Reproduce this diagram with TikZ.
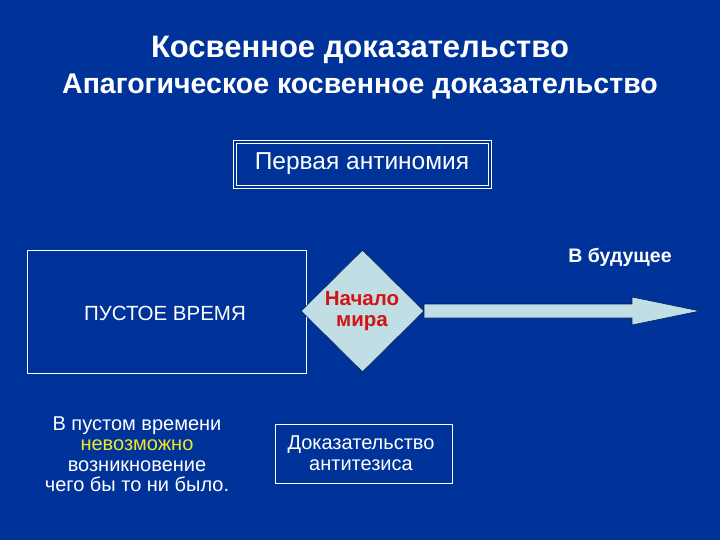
\documentclass[tikz,border=0pt]{standalone}
\usepackage{fontspec}
\setmainfont{Liberation Sans}
\usetikzlibrary{shapes.geometric}
\definecolor{bg}{RGB}{0,51,153}
\definecolor{lb}{RGB}{192,222,228}
\definecolor{rd}{RGB}{210,20,20}
\definecolor{yl}{RGB}{240,230,40}
\tikzset{txt/.style={text=white,align=center,inner sep=0pt},
 frame/.style={draw=white,line width=0.8pt}}
\begin{document}
\begin{tikzpicture}[x=1pt,y=-1pt]
\fill[bg] (0,0) rectangle (720,540);
\useasboundingbox (0,0) rectangle (720,540);
\node[txt,font=\bfseries\fontsize{31}{36}\selectfont] (t1) at (360,50) {Косвенное доказательство};
\node[txt,font=\bfseries\fontsize{28.5}{34}\selectfont] (t2) at (360,87) {Апагогическое косвенное доказательство};
\draw[white,line width=0.8pt] (233,140) rectangle (491,188);
\draw[white,line width=0.8pt] (236,143) rectangle (488,185);
\node[txt,font=\fontsize{24.5}{28}\selectfont] (pa) at (362,164) {Первая антиномия};
\node[frame,minimum width=279pt,minimum height=123pt,inner sep=0pt] (box) at (166.5,311.5) {};
\node[txt,font=\fontsize{20.5}{24}\selectfont] (pv) at (165,313) {ПУСТОЕ ВРЕМЯ};
\draw[fill=lb,draw=bg!60!black,line width=0.6pt] (424,304) -- (632,304) -- (632,297) -- (700,311) -- (632,325) -- (632,318) -- (424,318) -- cycle;
\node[diamond,fill=lb,draw=bg!60!black,line width=0.6pt,minimum width=123pt,minimum height=122pt,inner sep=0pt,aspect=1] (d) at (362.5,311) {};
\node[txt,text=rd,font=\bfseries\fontsize{20.5}{21}\selectfont] (nm) at (362,311) {Начало\\мира};
\node[txt,font=\bfseries\fontsize{19.5}{22}\selectfont] (fut) at (620,257) {В будущее};
\node[txt,font=\fontsize{20}{20.5}\selectfont] (bl) at (137,454) {В пустом времени\\\textcolor{yl}{невозможно}\\возникновение\\чего бы то ни было.};
\node[frame,minimum width=177pt,minimum height=59pt,inner sep=0pt] (db) at (363.5,453.5) {};
\node[txt,font=\fontsize{20}{21}\selectfont] (dt) at (361,453) {Доказательство\\антитезиса};
\end{tikzpicture}
\end{document}
